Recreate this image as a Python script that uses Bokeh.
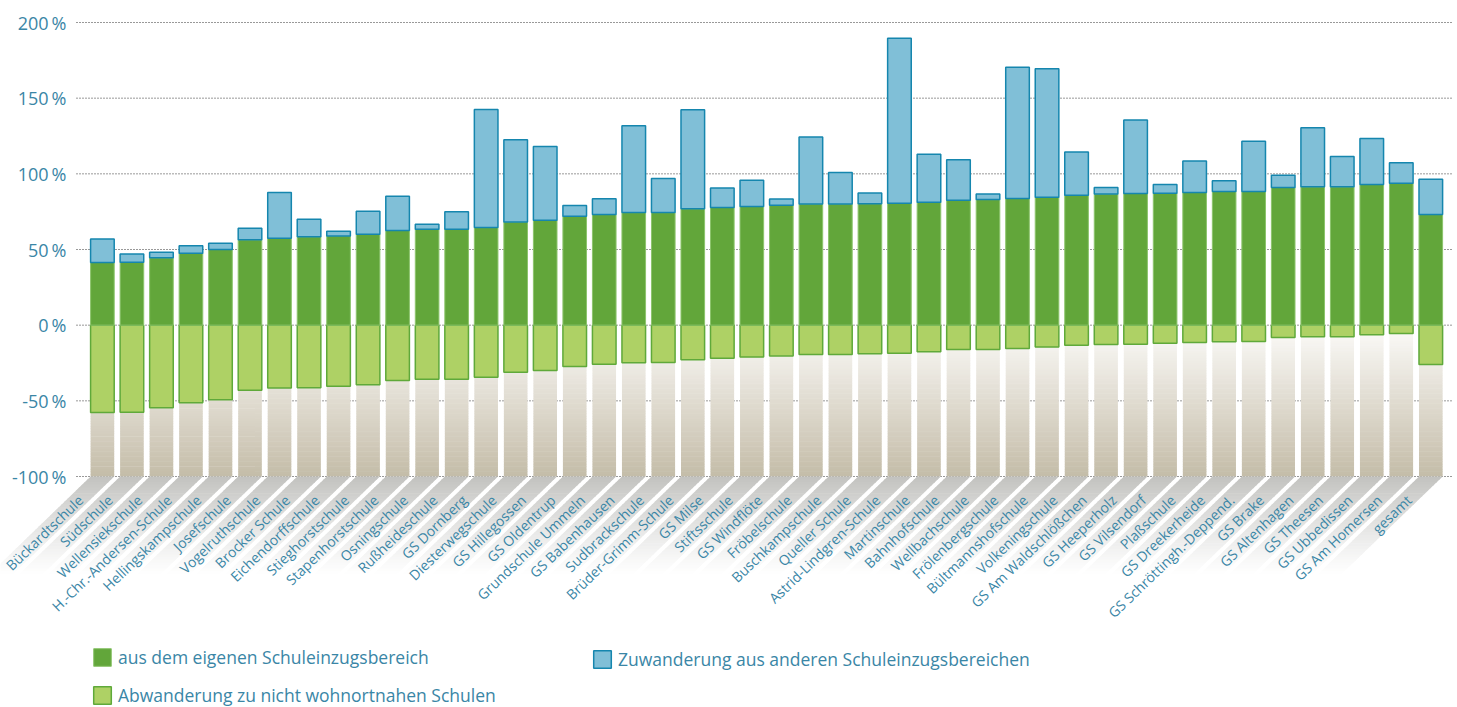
import math
from bokeh.plotting import figure
from bokeh.models import Range1d, Legend, LegendItem, ColumnDataSource
from bokeh.core.properties import value
from bokeh.embed import file_html
from bokeh.resources import INLINE

schools = [
    "Bückardtschule", "Südschule", "Wellensiekschule", "H.-Chr.-Andersen-Schule",
    "Hellingskampschule", "Josefschule", "Vogelruthschule", "Brocker Schule",
    "Eichendorffschule", "Stieghorstschule", "Stapenhorstschule", "Osningschule",
    "Rußheideschule", "GS Dornberg", "Diesterwegschule", "GS Hillegossen",
    "GS Oldentrup", "Grundschule Ummeln", "GS Babenhausen", "Sudbrackschule",
    "Brüder-Grimm-Schule", "GS Milse", "Stiftsschule", "GS Windflöte",
    "Fröbelschule", "Buschkampschule", "Queller Schule", "Astrid-Lindgren-Schule",
    "Martinschule", "Bahnhofschule", "Wellbachschule", "Frölenbergschule",
    "Bültmannshofschule", "Volkeningschule", "GS Am Waldschlößchen", "GS Heeperholz",
    "GS Vilsendorf", "Plaßschule", "GS Dreekerheide", "GS Schröttingh.-Deppend.",
    "GS Brake", "GS Altenhagen", "GS Theesen", "GS Ubbedissen", "GS Am Homersen",
    "gesamt",
]

# share from own catchment area (%)
eigen = [41.4, 41.6, 44.5, 47.6, 50.0, 56.4, 57.5, 58.4, 59.0, 60.1, 62.6, 63.4,
         63.4, 64.5, 68.1, 69.4, 72.0, 73.1, 74.4, 74.4, 76.9, 77.8, 78.4, 79.3,
         80.0, 80.1, 80.3, 80.6, 81.3, 82.6, 83.0, 83.7, 84.6, 85.9, 86.6, 87.0,
         87.2, 87.7, 88.3, 88.3, 91.0, 91.4, 91.4, 93.0, 93.8, 73.1]

# inflow from other catchment areas (%)
zuwanderung = [15.6, 5.5, 3.7, 4.8, 4.2, 7.7, 30.2, 11.6, 3.1, 15.2, 22.6, 3.3,
               11.5, 78.0, 54.4, 48.7, 7.1, 10.4, 57.3, 22.5, 65.4, 12.9, 17.4, 4.0,
               44.4, 20.8, 7.1, 109.0, 31.7, 26.7, 3.6, 86.8, 84.8, 28.6, 4.4, 48.5,
               5.8, 20.7, 7.1, 33.3, 8.1, 39.0, 20.1, 30.3, 13.5, 23.4]

# outflow to schools not close to home (%)
abwanderung = [-57.7, -57.5, -54.6, -51.3, -49.3, -43.0, -41.6, -41.4, -40.3, -39.4,
               -36.6, -35.7, -35.7, -34.4, -31.1, -30.0, -27.3, -25.8, -24.9, -24.7,
               -22.9, -21.8, -21.1, -20.3, -19.4, -19.4, -18.9, -18.5, -17.6, -16.1,
               -16.1, -15.4, -14.5, -13.2, -12.8, -12.6, -11.9, -11.5, -11.0, -10.8,
               -8.1, -7.7, -7.7, -6.4, -5.5, -26.0]

y_ticks = [-100, -50, 0, 50, 100, 150, 200]
y_tick_labels = ["-100\u2009%", "-50\u2009%", "0\u2009%", "50\u2009%",
                 "100\u2009%", "150\u2009%", "200\u2009%"]

legend_labels = ["aus dem eigenen Schuleinzugsbereich",
                 "Zuwanderung aus anderen Schuleinzugsbereichen",
                 "Abwanderung zu nicht wohnortnahen Schulen"]

# ---------------------------------------------------------------- layout
W, H = 1457, 707
PX_PER_CAT = 29.52
PX_PER_PCT = 454.0 / 300.0
FIRST_CENTER_PX = 101.9
Y200_PX = 22.0
X_START = -FIRST_CENTER_PX / PX_PER_CAT
X_END = X_START + W / PX_PER_CAT
Y_TOP = 200 + Y200_PX / PX_PER_PCT
Y_BOT = Y_TOP - H / PX_PER_PCT
BAR_W = 0.8
ANG = math.radians(44)

def px_x(px):
    return X_START + px / PX_PER_CAT

TEXT_COLOR = "#3a86a6"
FONT = "Open Sans"

p = figure(width=W, height=H, output_backend="svg", toolbar_location=None,
           x_range=Range1d(X_START, X_END), y_range=Range1d(Y_BOT, Y_TOP),
           x_axis_type=None, y_axis_type=None,
           min_border_left=0, min_border_right=0,
           min_border_top=0, min_border_bottom=0)
p.outline_line_color = None
p.background_fill_color = "white"
p.border_fill_color = "white"
p.xgrid.visible = False
p.ygrid.visible = False

xs = list(range(len(schools)))

# dotted horizontal grid lines
p.segment(x0=[px_x(76)] * len(y_ticks), x1=[px_x(1452)] * len(y_ticks),
          y0=y_ticks, y1=y_ticks, line_color="#333333", line_dash="1 2", line_width=1)

# y tick labels
p.text(x=[px_x(66)] * len(y_ticks), y=y_ticks, text=y_tick_labels,
       text_align="right", text_baseline="middle", text_font=value(FONT),
       text_font_size="18px", text_color=TEXT_COLOR)

# gradient background below zero (white -> tan) drawn as thin slices
N = 60
c0 = (252, 251, 249)
c1 = (196, 188, 168)
gx, gt, gb, gc = [], [], [], []
for k in range(N):
    t = (k + 0.5) / N
    col = "#%02x%02x%02x" % tuple(int(round(a + (b - a) * t)) for a, b in zip(c0, c1))
    top = -100.0 * k / N
    bot = -100.0 * (k + 1) / N - 0.3
    if k == N - 1:
        bot = -100.0
    for x in xs:
        gx.append(x); gt.append(top); gb.append(bot); gc.append(col)
p.vbar(x="x", top="top", bottom="bottom", width=BAR_W, fill_color="c", line_color=None,
       source=ColumnDataSource(dict(x=gx, top=gt, bottom=gb, c=gc)))

# diagonal fading bands below the bars (behind the labels)
K = 36
D = 100.0
bxs, bys, bcs = [], [], []
for k in range(K):
    d0 = D * k / K
    d1 = D * (k + 1) / K + 0.6
    t = (k + 0.5) / K
    g = (1 - t) ** 1.2
    col = "#%02x%02x%02x" % tuple(int(round(255 - (255 - cc) * g)) for cc in (194, 194, 191))
    for x in xs:
        s0 = d0 / math.tan(ANG) / PX_PER_CAT
        s1 = d1 / math.tan(ANG) / PX_PER_CAT
        y0 = -100 - d0 / PX_PER_PCT
        y1 = -100 - d1 / PX_PER_PCT
        bxs.append([x - BAR_W / 2 - s0, x + BAR_W / 2 - s0, x + BAR_W / 2 - s1, x - BAR_W / 2 - s1])
        bys.append([y0, y0, y1, y1])
        bcs.append(col)
p.patches(xs="xs", ys="ys", fill_color="c", line_color=None,
          source=ColumnDataSource(dict(xs=bxs, ys=bys, c=bcs)))

src = ColumnDataSource(dict(x=xs, eigen=eigen,
                            total=[e + z for e, z in zip(eigen, zuwanderung)],
                            ab=abwanderung, zero=[0] * len(xs)))

r_light = p.vbar(x="x", top="zero", bottom="ab", width=BAR_W, source=src,
                 fill_color="#aed165", line_color="#5fa93a", line_width=1.5)
r_green = p.vbar(x="x", top="eigen", bottom="zero", width=BAR_W, source=src,
                 fill_color="#62a63a", line_color="#8cc46c", line_width=1)
r_blue = p.vbar(x="x", top="total", bottom="eigen", width=BAR_W, source=src,
                fill_color="#80bfd7", line_color="#1586ae", line_width=1.5)

# rotated category labels
LD = 21.0
lab_x = [x - LD / math.tan(ANG) / PX_PER_CAT for x in xs]
lab_y = [-100 - LD / PX_PER_PCT] * len(xs)
p.text(x=lab_x, y=lab_y, text=schools, angle=ANG, text_align="right",
       text_baseline="middle", text_font=value(FONT), text_font_size="14px",
       text_color=TEXT_COLOR)

leg_common = dict(glyph_width=22, glyph_height=22, label_height=22, spacing=14,
                  padding=0, margin=0, border_line_color=None, background_fill_alpha=0,
                  label_text_font=FONT, label_text_font_size="17.5px",
                  label_text_color=TEXT_COLOR, label_standoff=5)
leg1 = Legend(items=[LegendItem(label=legend_labels[0], renderers=[r_green]),
                     LegendItem(label=legend_labels[2], renderers=[r_light])],
              location=(91, 0), orientation="vertical", **leg_common)
leg2 = Legend(items=[LegendItem(label=legend_labels[1], renderers=[r_blue])],
              location=(591, 36), orientation="vertical", **leg_common)
p.add_layout(leg1)
p.add_layout(leg2)

open("out.html", "w").write(file_html(p, INLINE))
